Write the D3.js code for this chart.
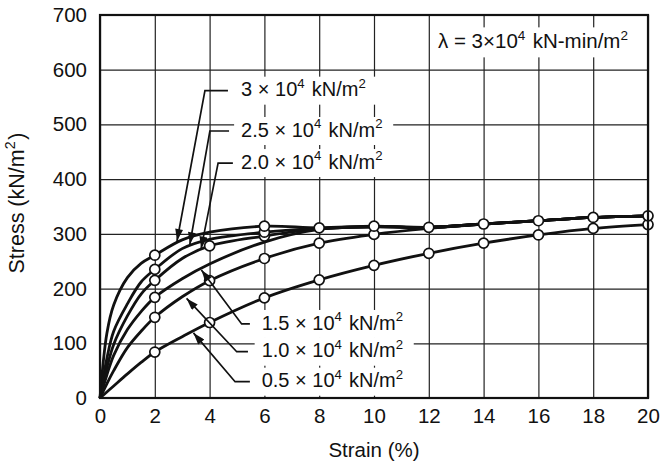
<!DOCTYPE html>
<html><head><meta charset="utf-8">
<script src="https://cdn.jsdelivr.net/npm/d3@7"></script>
<style>body{margin:0;background:#fff}svg{display:block}</style>
</head><body>
<svg id="chart" width="661" height="467"></svg>
<script>
// ---- data ----
const strain   = [0, 0.25, 0.5, 1, 1.5, 2, 3, 4, 6, 8, 10, 12, 14, 16, 18, 20];
const stress30 = [0, 118, 170, 220, 246, 261, 289, 303, 314, 311, 314, 312, 318, 324, 330, 333];
const stress25 = [0, 72, 122, 172, 212, 235, 273, 290, 303, 310, 313, 312, 318, 324, 330, 333];
const stress20 = [0, 55, 98, 150, 190, 215, 255, 278, 296, 309, 313, 312, 318, 324, 330, 333];
const stress15 = [0, 42, 78, 125, 158, 184, 218, 245, 285, 308, 313, 312, 318, 324, 330, 333];
const stress10 = [0, 26, 50, 92, 122, 147.5, 185, 214.5, 255, 283, 299, 310, 318, 324, 330, 333];
const stress05 = [0, 11, 22, 44, 65, 84, 112, 138, 183, 216, 242.5, 264.5, 283, 298, 310, 317];

const markers30 = [2, 6, 8, 10, 12, 14, 16, 18, 20];
const markers25 = [2, 6];
const markers20 = [2, 4, 6];
const markers15 = [2];
const markers10 = [2, 4, 6, 8, 10];
const markers05 = [2, 4, 6, 8, 10, 12, 14, 16, 18, 20];

const seriesLabels = ["3", "2.5", "2.0", "1.5", "1.0", "0.5"];
const xTicks = [0, 2, 4, 6, 8, 10, 12, 14, 16, 18, 20];
const yTicks = [0, 100, 200, 300, 400, 500, 600, 700];

// annotation anchors (data units): text/leader level, leader start, elbow, arrow tip
const labelStrain   = [5.15, 5.15, 5.15, 5.9, 5.9, 5.9];
const labelStress   = [561.7, 488, 429.4, 135.3, 84.6, 29.8];
const leaderStart   = [4.67, 4.71, 4.85, 5.47, 5.40, 5.47];
const elbowStrain   = [3.83, 4.01, 4.31, 5.17, 4.99, 4.93];
const tipStrain     = [2.81, 3.28, 3.69, 3.7, 3.16, 3.41];
const tipStress     = [287, 281, 273, 234, 182, 119];

// ---- chart ----
(function () {
const svg = d3.select("#chart");
const FONT = "'Liberation Sans', Arial, Helvetica, sans-serif";
const pL = 100, pR = 648, pT = 15, pB = 398;
const x = d3.scaleLinear().domain([0, 20]).range([pL, pR]);
const y = d3.scaleLinear().domain([0, 700]).range([pB, pT]);

// grid + axes
const gx = svg.append("g").attr("transform", `translate(0,${pB})`)
  .call(d3.axisBottom(x).tickValues(xTicks).tickSize(-(pB - pT)).tickPadding(10).tickFormat(d3.format("d")));
const gy = svg.append("g").attr("transform", `translate(${pL},0)`)
  .call(d3.axisLeft(y).tickValues(yTicks).tickSize(-(pR - pL)).tickPadding(13).tickFormat(d3.format("d")));
[gx, gy].forEach(g => {
  g.select(".domain").remove();
  g.selectAll(".tick line").attr("stroke", "#222").attr("stroke-width", 1.2);
  g.selectAll(".tick text").attr("font-family", FONT).attr("font-size", 20.5).attr("fill", "#111");
});

// helper for texts with superscripts
function richText(sel, parts, size) {
  parts.forEach(p => {
    if (p.sup) {
      sel.append("tspan").attr("font-size", size * 0.66).attr("dy", -size * 0.42).text(p.t);
      sel.append("tspan").attr("font-size", size).attr("dy", size * 0.42).text("\u200A");
    } else {
      sel.append("tspan").attr("font-size", size).text(p.t);
    }
  });
}

const labelLayer = svg.append("g");
const curveG = svg.append("g");
const arrowG = svg.append("g");
const textLayer = svg.append("g");
const LBL = 20;
seriesLabels.forEach((s, i) => {
  const t = textLayer.append("text")
    .attr("x", x(labelStrain[i])).attr("y", y(labelStress[i]))
    .attr("dy", "0.36em").attr("font-family", FONT).attr("fill", "#111");
  richText(t, [{t: s + " \u00D7 10"}, {t: "4", sup: true}, {t: " kN/m"}, {t: "2", sup: true}], LBL);
  const bb = t.node().getBBox();
  labelLayer.append("rect").attr("x", bb.x - 7).attr("y", y(labelStress[i]) - 14)
    .attr("width", bb.width + 16).attr("height", 28).attr("fill", "#fff");
});

// lambda
const lam = textLayer.append("text").attr("x", 438).attr("y", y(650)).attr("dy", "0.36em")
  .attr("font-family", FONT).attr("fill", "#111");
richText(lam, [{t: "\u03BB = 3\u00D710"}, {t: "4", sup: true}, {t: " kN-min/m"}, {t: "2", sup: true}], 20.5);
{
  const bb = lam.node().getBBox();
  labelLayer.append("rect").attr("x", bb.x - 6).attr("y", y(650) - 15)
    .attr("width", pR - bb.x + 6).attr("height", 30).attr("fill", "#fff");
}

// curves
const series = [
  {v: stress30, m: markers30}, {v: stress25, m: markers25}, {v: stress20, m: markers20},
  {v: stress15, m: markers15}, {v: stress10, m: markers10}, {v: stress05, m: markers05}
];
const line = d3.line().x(d => x(d[0])).y(d => y(d[1])).curve(d3.curveCatmullRom.alpha(0.5));
series.forEach(s => {
  curveG.append("path").datum(strain.map((e, i) => [e, s.v[i]]))
    .attr("d", line).attr("fill", "none").attr("stroke", "#111").attr("stroke-width", 2.8);
});
series.slice().reverse().forEach(s => {
  curveG.selectAll(null).data(s.m.map(e => [e, s.v[strain.indexOf(e)]])).enter().append("circle")
    .attr("cx", d => x(d[0])).attr("cy", d => y(d[1])).attr("r", 5)
    .attr("fill", "#fff").attr("stroke", "#111").attr("stroke-width", 1.7);
});

// leader arrows
svg.append("defs").append("marker").attr("id", "ah").attr("viewBox", "0 0 12 8")
  .attr("refX", 12).attr("refY", 4).attr("markerWidth", 13).attr("markerHeight", 8)
  .attr("markerUnits", "userSpaceOnUse").attr("orient", "auto")
  .append("path").attr("d", "M0,0 L12,4 L0,8 Z").attr("fill", "#111");
seriesLabels.forEach((s, i) => {
  const pts = [[leaderStart[i], labelStress[i]], [elbowStrain[i], labelStress[i]], [tipStrain[i], tipStress[i]]];
  arrowG.append("path").attr("d", d3.line().x(d => x(d[0])).y(d => y(d[1]))(pts))
    .attr("fill", "none").attr("stroke", "#111").attr("stroke-width", 1.7).attr("marker-end", "url(#ah)");
});

// frame
svg.append("rect").attr("x", pL).attr("y", pT).attr("width", pR - pL).attr("height", pB - pT)
  .attr("fill", "none").attr("stroke", "#111").attr("stroke-width", 2.2);

// axis titles
svg.append("text").attr("x", (pL + pR) / 2).attr("y", 457).attr("text-anchor", "middle")
  .attr("font-family", FONT).attr("font-size", 20.5).attr("fill", "#111").text("Strain (%)");
const yt = svg.append("text").attr("transform", "translate(24,203) rotate(-90)").attr("text-anchor", "middle")
  .attr("font-family", FONT).attr("fill", "#111");
richText(yt, [{t: "Stress (kN/m"}, {t: "2", sup: true}, {t: ")"}], 21.5);
})();
</script>
</body></html>
